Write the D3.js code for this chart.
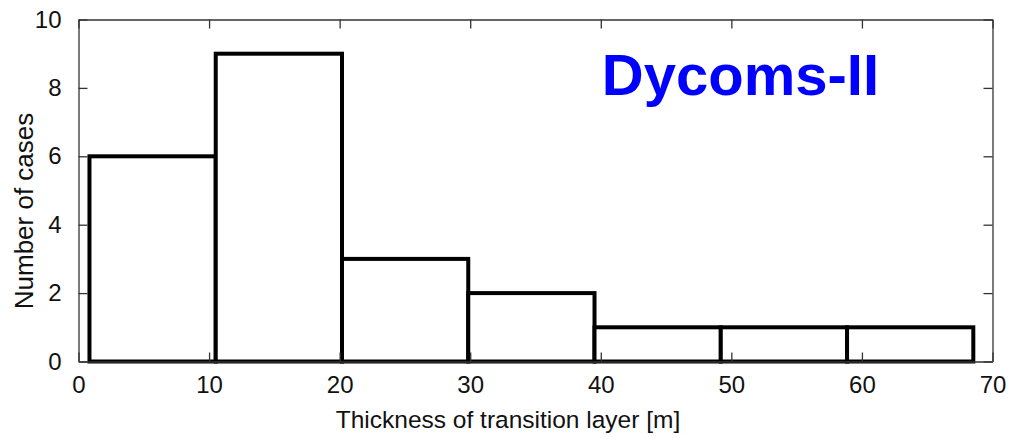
<!DOCTYPE html>
<html>
<head>
<meta charset="utf-8">
<script src="https://cdn.jsdelivr.net/npm/d3@7"></script>
<style>
  html, body { margin: 0; padding: 0; background: #fff; }
  svg { display: block; font-family: "Liberation Sans", Arial, Helvetica, sans-serif; }
</style>
</head>
<body>
<svg id="chart" width="1022" height="438"></svg>
<script>
// Histogram of transition-layer thickness
const binEdges = [0.84, 10.51, 20.18, 29.85, 39.52, 49.19, 58.86, 68.53];
const counts = [6, 9, 3, 2, 1, 1, 1];
const xTicks = [0, 10, 20, 30, 40, 50, 60, 70];
const yTicks = [0, 2, 4, 6, 8, 10];
const xLabel = "Thickness of transition layer [m]";
const yLabel = "Number of cases";
const title = "Dycoms-II";

const bins = counts.map((c, i) => ({ x0: binEdges[i], x1: binEdges[i + 1], n: c }));

const W = 1022, H = 438;
const m = { left: 78.5, top: 19.5, right: 29.5, bottom: 76.5 };
const svg = d3.select("#chart");

const x = d3.scaleLinear().domain([0, 70]).range([m.left, W - m.right]);
const y = d3.scaleLinear().domain([0, 10]).range([H - m.bottom, m.top]);

const axisColor = "#333";
const tickLen = 9;

// Bars
svg.append("g")
  .selectAll("rect")
  .data(bins)
  .join("rect")
  .attr("x", d => x(d.x0))
  .attr("y", d => y(d.n))
  .attr("width", d => x(d.x1) - x(d.x0))
  .attr("height", d => y(0) - y(d.n))
  .attr("fill", "#fff")
  .attr("stroke", "#000")
  .attr("stroke-width", 4);

// Axes (ticks drawn inward on all four sides)
function styleAxis(g) {
  g.select(".domain").attr("stroke", axisColor).attr("stroke-width", 1.3);
  g.selectAll(".tick line").attr("stroke", axisColor).attr("stroke-width", 1.3);
  g.selectAll(".tick text").attr("fill", "#111").attr("font-size", 24)
    .attr("font-family", "\"Liberation Sans\", Arial, sans-serif");
}

svg.append("g")
  .attr("transform", `translate(0,${y(0)})`)
  .call(d3.axisBottom(x).tickValues(xTicks).tickFormat(d3.format("d"))
    .tickSizeInner(-tickLen).tickSizeOuter(0).tickPadding(14))
  .call(styleAxis);

svg.append("g")
  .attr("transform", `translate(0,${y(10)})`)
  .call(d3.axisTop(x).tickValues(xTicks).tickFormat("")
    .tickSizeInner(-tickLen).tickSizeOuter(0))
  .call(styleAxis);

svg.append("g")
  .attr("transform", `translate(${x(0)},0)`)
  .call(d3.axisLeft(y).tickValues(yTicks).tickFormat(d3.format("d"))
    .tickSizeInner(-tickLen).tickSizeOuter(0).tickPadding(17))
  .call(styleAxis);

svg.append("g")
  .attr("transform", `translate(${x(70)},0)`)
  .call(d3.axisRight(y).tickValues(yTicks).tickFormat("")
    .tickSizeInner(-tickLen).tickSizeOuter(0))
  .call(styleAxis);

// Axis titles
svg.append("text")
  .attr("x", 508)
  .attr("y", 428)
  .attr("text-anchor", "middle")
  .attr("font-size", 24.5)
  .attr("fill", "#111")
  .text(xLabel);

svg.append("text")
  .attr("transform", "translate(33,211) rotate(-90)")
  .attr("text-anchor", "middle")
  .attr("font-size", 26)
  .attr("fill", "#111")
  .text(yLabel);

// Campaign label
svg.append("text")
  .attr("x", 879)
  .attr("y", 95)
  .attr("text-anchor", "end")
  .attr("font-size", 58)
  .attr("font-weight", "bold")
  .attr("fill", "#0000ff")
  .text(title);
</script>
</body>
</html>
